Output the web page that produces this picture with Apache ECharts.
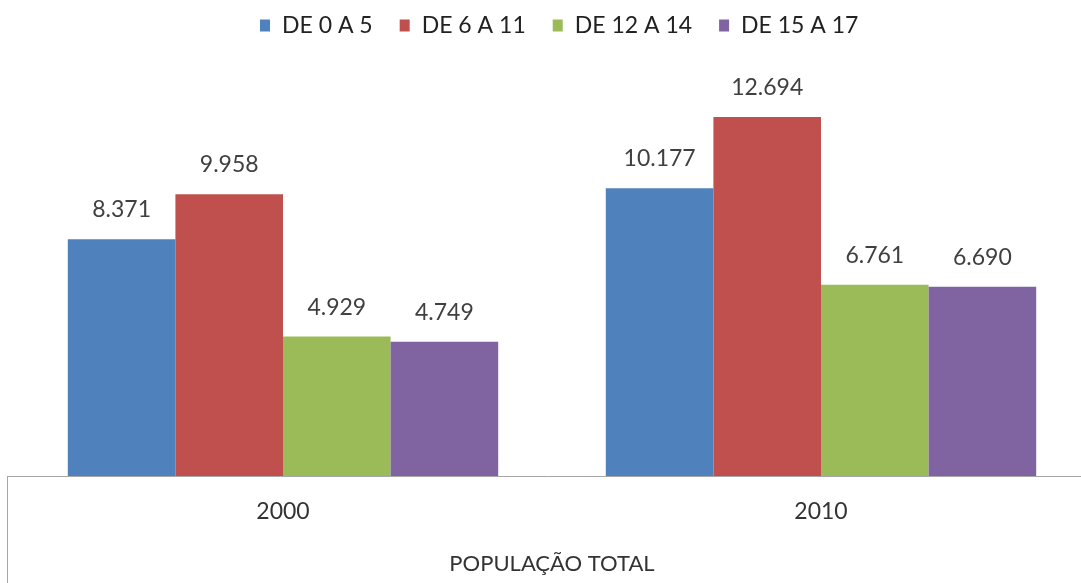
<!DOCTYPE html>
<html><head><meta charset="utf-8">
<script src="https://cdn.jsdelivr.net/npm/echarts@6/dist/echarts.min.js"></script>
<style>html,body{margin:0;padding:0;background:#fff}#c{width:1081px;height:583px}</style>
</head><body><div id="c"></div>
<script>
const categories = ['2000', '2010'];
const seriesNames = ['DE 0 A 5', 'DE 6 A 11', 'DE 12 A 14', 'DE 15 A 17'];
const de0a5 = [8371, 10177];
const de6a11 = [9958, 12694];
const de12a14 = [4929, 6761];
const de15a17 = [4749, 6690];
const colors = ['#4F81BD', '#C0504D', '#9BBB59', '#8064A2'];
const values = [de0a5, de6a11, de12a14, de15a17];

const fmt = v => {
  const s = String(v);
  return s.length > 3 ? s.slice(0, s.length - 3) + '.' + s.slice(-3) : s;
};
const font = 'Lato, "Open Sans", sans-serif';
const chart = echarts.init(document.getElementById('c'));
chart.setOption({
  animation: false,
  color: colors,
  textStyle: { fontFamily: font },
  legend: {
    top: 9, left: 255,
    itemWidth: 10, itemHeight: 12, itemGap: 27,
    icon: 'rect',
    textStyle: { fontSize: 23, color: '#222', fontFamily: font, padding: [0, 0, 0, 7] },
    data: seriesNames
  },
  grid: { left: 14, right: -9, top: 80, bottom: 107, containLabel: false, outerBoundsMode: 'none' },
  xAxis: {
    type: 'category', data: categories,
    axisLine: { lineStyle: { color: '#a6a6a6', width: 1 } },
    axisTick: { show: false },
    axisLabel: { fontSize: 23, color: '#333', margin: 24, fontFamily: font },
    name: 'POPULAÇÃO TOTAL', nameLocation: 'middle', nameGap: 77,
    nameTextStyle: { fontSize: 22, color: '#333', fontFamily: font }
  },
  yAxis: { type: 'value', min: 0, max: 14000, show: false, splitLine: { show: false } },
  series: seriesNames.map((n, i) => ({
    name: n, type: 'bar', data: values[i],
    barGap: '0%', barCategoryGap: '20%',
    label: { show: true, position: 'top', distance: 18, fontSize: 23, color: '#404040',
      fontFamily: font, formatter: p => fmt(p.value) }
  })),
  graphic: [
    { type: 'line', shape: { x1: 7, y1: 476.5, x2: 14, y2: 476.5 }, style: { stroke: '#a6a6a6', lineWidth: 1 } },
    { type: 'line', shape: { x1: 7.5, y1: 476, x2: 7.5, y2: 583 }, style: { stroke: '#a6a6a6', lineWidth: 1 } }
  ]
});
</script></body></html>
